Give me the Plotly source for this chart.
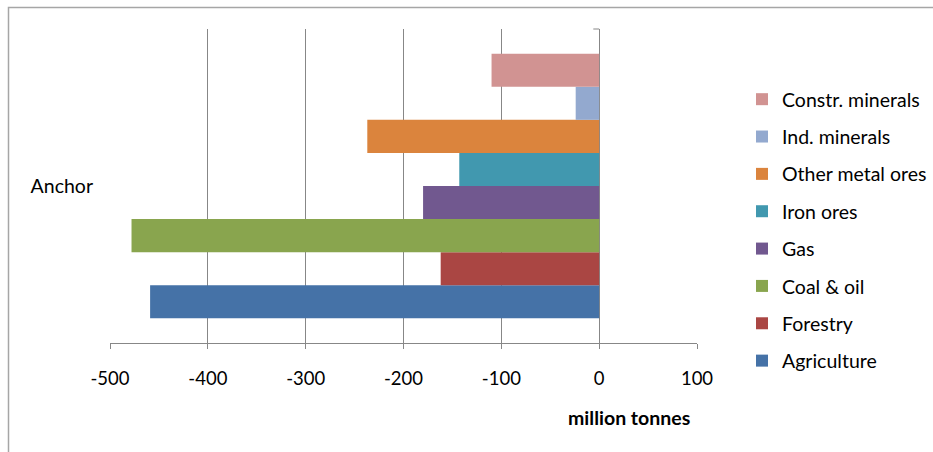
import plotly.graph_objects as go

categories = ["Anchor"]
series_names = ["Agriculture", "Forestry", "Coal & oil", "Gas", "Iron ores",
                "Other metal ores", "Ind. minerals", "Constr. minerals"]
series_values = [[-459], [-162], [-478], [-180], [-143], [-237], [-24], [-110]]
series_colors = ["#4572A7", "#AA4643", "#89A54E", "#71588F", "#4198AF",
                 "#DB843D", "#93A9CF", "#D19392"]
x_ticks = [-500, -400, -300, -200, -100, 0, 100]
x_title = "million tonnes"

FONT = "Lato, Carlito, Calibri, sans-serif"
GRID = "#878787"

fig = go.Figure()
n = len(series_names)
for i, (name, vals, col) in enumerate(zip(series_names, series_values, series_colors)):
    fig.add_trace(go.Bar(
        y=categories, x=vals, name=name, orientation="h",
        marker=dict(color=col, line=dict(width=0)),
        legendgroup=name, legendrank=n - i,
    ))

W, H = 933, 452
L, R, T, B = 110, 236, 29, 109
pw, ph = W - L - R, H - T - B

fig.update_layout(
    width=W, height=H,
    margin=dict(l=L, r=R, t=T, b=B, autoexpand=False),
    paper_bgcolor="white", plot_bgcolor="white",
    barmode="group", bargap=0.157, bargroupgap=0,
    font=dict(family=FONT, size=19, color="#000000"),
    showlegend=True,
    legend=dict(
        x=(742 - L) / pw, xanchor="left",
        y=1 - (80 - T) / ph, yanchor="top",
        traceorder="grouped", tracegroupgap=9,
        font=dict(family=FONT, size=19.5, color="#000000"),
        bgcolor="rgba(0,0,0,0)", itemwidth=30,
    ),
    xaxis=dict(
        range=[-500, 100], tickvals=x_ticks,
        ticktext=[str(v) for v in x_ticks],
        showgrid=True, gridcolor=GRID, gridwidth=1,
        zeroline=True, zerolinecolor=GRID, zerolinewidth=1,
        showline=True, linecolor=GRID, linewidth=1,
        ticks="outside", ticklen=5, tickcolor=GRID,
        ticklabelstandoff=14,
        tickfont=dict(family=FONT, size=18.5),
    ),
    yaxis=dict(
        type="category", range=[-0.5, 0.5],
        showgrid=False, zeroline=False, showline=False, ticks="",
        ticklabelstandoff=16,
        tickfont=dict(family=FONT, size=19.5),
    ),
    annotations=[dict(
        text="<b>" + x_title + "</b>", xref="paper", yref="paper",
        x=(629 - L) / pw, y=1 - (417 - T) / ph, xanchor="center", yanchor="middle",
        showarrow=False, font=dict(family=FONT, size=19.5),
    )],
    shapes=[
        dict(type="rect", xref="paper", yref="paper",
             x0=(8.5 - L) / pw, x1=1.6, y0=-0.6, y1=1 + (T - 7.5) / ph,
             line=dict(color="#A6A6A6", width=1.5), fillcolor="rgba(0,0,0,0)",
             layer="below"),
        dict(type="line", xref="x", yref="paper", x0=-6, x1=0, y0=1, y1=1,
             line=dict(color=GRID, width=1)),
    ],
)

fig.write_html("out.html", config={"displayModeBar": False},
               post_script="document.body.style.margin='0';")
